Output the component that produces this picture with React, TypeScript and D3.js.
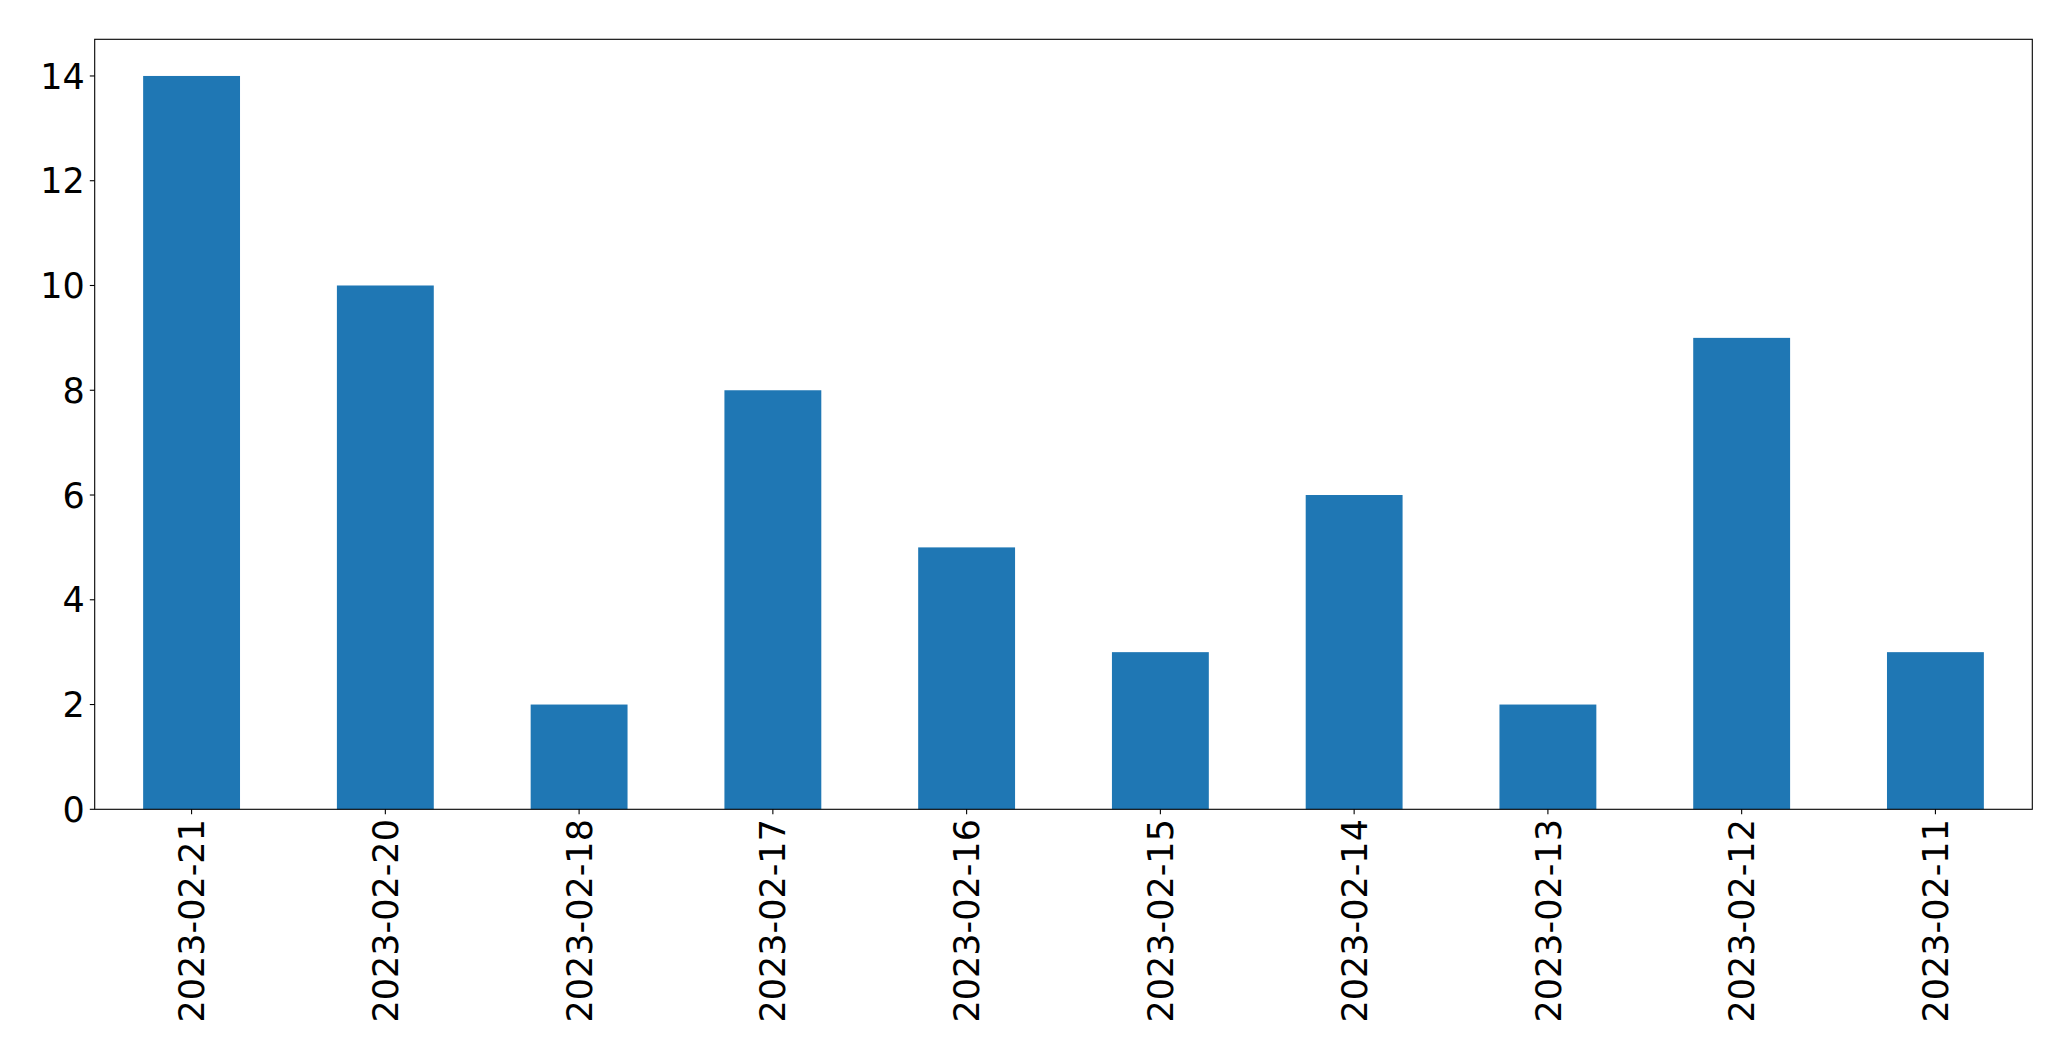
import React from "react";
import * as d3 from "d3";

const categories: string[] = [
  "2023-02-21", "2023-02-20", "2023-02-18", "2023-02-17", "2023-02-16",
  "2023-02-15", "2023-02-14", "2023-02-13", "2023-02-12", "2023-02-11",
];
const values: number[] = [14, 10, 2, 8, 5, 3, 6, 2, 9, 3];
const yTicks: number[] = [0, 2, 4, 6, 8, 10, 12, 14];

const W = 2071;
const H = 1061;
const left = 94.7;
const right = 2032.3;
const top = 39.3;
const bottom = 809.3;
const fontSize = 35;
const tickLen = 4.9;
const pad = 4.9;
const color = "#1f77b4";

export default function App() {
  const x = d3
    .scaleLinear()
    .domain([-0.5, categories.length - 0.5])
    .range([left, right]);
  const y = d3.scaleLinear().domain([0, 14.7]).range([bottom, top]);
  const bw = x(0.25) - x(-0.25);

  return (
    <svg
      width={W}
      height={H}
      style={{ position: "absolute", left: 0, top: 0, background: "#fff" }}
      fontFamily="'DejaVu Sans', sans-serif"
    >
      <rect x={0} y={0} width={W} height={H} fill="#fff" />
      {values.map((v, i) => (
        <rect
          key={i}
          x={x(i) - bw / 2}
          y={y(v)}
          width={bw}
          height={y(0) - y(v)}
          fill={color}
        />
      ))}
      {yTicks.map((t) => (
        <g key={t}>
          <line x1={left - tickLen} x2={left} y1={y(t)} y2={y(t)} stroke="#000" strokeWidth={1.1} />
          <text
            x={left - tickLen - pad}
            y={y(t)}
            dy="0.36em"
            textAnchor="end"
            fontSize={fontSize}
            fill="#000"
          >
            {t}
          </text>
        </g>
      ))}
      {categories.map((c, i) => (
        <g key={c}>
          <line x1={x(i)} x2={x(i)} y1={bottom} y2={bottom + tickLen} stroke="#000" strokeWidth={1.1} />
          <text
            transform={`translate(${x(i)},${bottom + tickLen + pad}) rotate(-90)`}
            dy="0.36em"
            textAnchor="end"
            fontSize={fontSize}
            fill="#000"
          >
            {c}
          </text>
        </g>
      ))}
      <rect
        x={left}
        y={top}
        width={right - left}
        height={bottom - top}
        fill="none"
        stroke="#000"
        strokeWidth={1.1}
      />
    </svg>
  );
}
